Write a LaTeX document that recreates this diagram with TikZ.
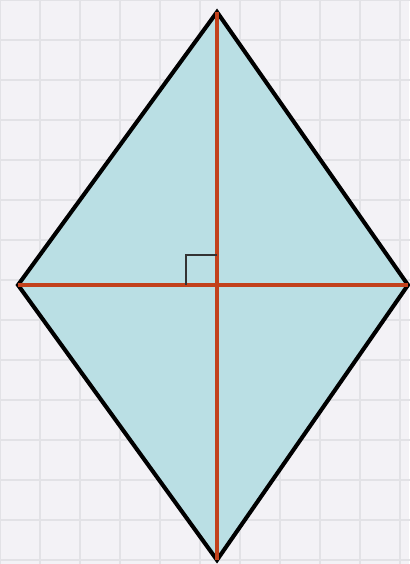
\documentclass[tikz,border=0pt]{standalone}
\usepackage{amsmath}
\usepackage{amssymb}
\usepackage{color}
\usepackage{tikz}

\definecolor{paper}{HTML}{F3F2F6}
\definecolor{gridline}{HTML}{E2E2E6}
\definecolor{rhombfill}{HTML}{BADFE4}
\definecolor{diagred}{HTML}{C2411C}

\begin{document}
\begin{tikzpicture}[x=0.025cm, y=-0.025cm]
        % Background paper
        \useasboundingbox (0,0) rectangle (409,564);
        \fill[paper] (0,0) rectangle (409,564);
        \begin{scope}[x=1cm, y=1cm]
            \draw[gridline, line width=1pt, step=1cm] (-0.425,-14.925) grid (10.575,0.075);
        \end{scope}

        % Vertices
        \coordinate (top) at (217, 12);
        \coordinate (left) at (18, 285);
        \coordinate (right) at (408, 285);
        \coordinate (bottom) at (217, 560);
        \coordinate (centre) at (217, 285);

        % Fill and edges
        \fill[rhombfill] (top) -- (right) -- (bottom) -- (left) -- cycle;
        \draw[line width=2.9pt, line join=miter] (top) -- (right) -- (bottom) -- (left) -- cycle;

        % Diagonals
        \draw[diagred, line width=2.6pt] (top) -- (bottom);
        \draw[diagred, line width=2.6pt] (left) -- (right);

        % Right angle mark
        \draw[black!80, line width=0.9pt] ([xshift=-0.775cm]centre) |- ([yshift=0.75cm]centre);
    \end{tikzpicture}
\end{document}
